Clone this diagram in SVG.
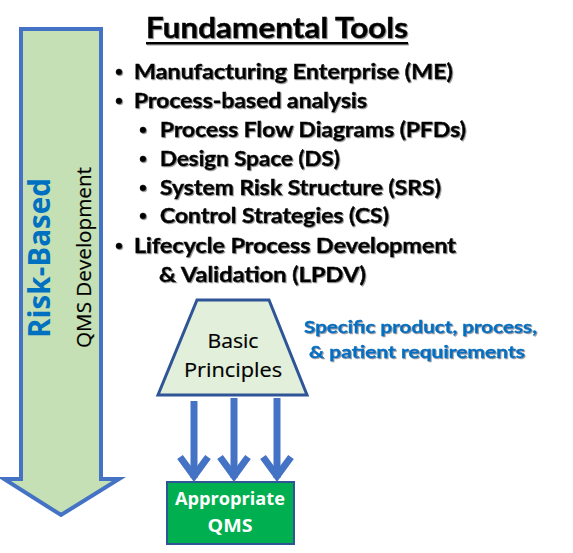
<svg xmlns="http://www.w3.org/2000/svg" width="573" height="553" viewBox="0 0 573 553">
<defs>
<filter id="sh" x="-5%" y="-20%" width="110%" height="140%">
<feDropShadow dx="1" dy="1" stdDeviation="0.6" flood-color="#777" flood-opacity="0.7"/>
</filter>
<style>
.t{font-family:Lato,"Open Sans","Liberation Sans",sans-serif;font-weight:bold;font-size:21px;fill:#000;stroke:#000;stroke-width:0.5}
.blue{font-family:Lato,"Open Sans","Liberation Sans",sans-serif;font-weight:bold;font-size:17px;fill:#0070C0;stroke:#0070C0;stroke-width:0.4}
.lbl{font-family:"Open Sans","Liberation Sans",sans-serif;font-size:20px;fill:#000;stroke:#000;stroke-width:0.2}
.wht{font-family:"Open Sans","Liberation Sans",sans-serif;font-weight:bold;font-size:17px;fill:#fff}
.conn{stroke:#4472C4;stroke-width:7;fill:none}
</style>
</defs>
<rect width="573" height="553" fill="#fff"/>
<g id="risk-arrow">
<polygon points="21,29 101,29 101,479 119,479 61,515 4,479 21,479" fill="#C5E0B4" stroke="#4472C4" stroke-width="4" stroke-linejoin="miter"/>
<text class="t" transform="translate(50,338) rotate(-90)" style="font-family:'Open Sans','Liberation Sans',sans-serif;font-size:30px;fill:#0070C0;stroke:none" textLength="160" lengthAdjust="spacingAndGlyphs">Risk-Based</text>
<text class="lbl" transform="translate(91,348) rotate(-90)" textLength="181" lengthAdjust="spacingAndGlyphs">QMS Development</text>
</g>
<g id="tools" filter="url(#sh)">
<text class="t" x="146" y="38" style="font-size:28px" textLength="262" lengthAdjust="spacingAndGlyphs">Fundamental Tools</text>
<rect x="146" y="42" width="262" height="2.5" fill="#000"/>
<g class="t">
<circle cx="119" cy="72" r="3"/>
<text x="134" y="79" textLength="319" lengthAdjust="spacingAndGlyphs">Manufacturing Enterprise (ME)</text>
<circle cx="119" cy="101" r="3"/>
<text x="134" y="108" textLength="233" lengthAdjust="spacingAndGlyphs">Process-based analysis</text>
<circle cx="143" cy="130" r="3"/>
<text x="160" y="137" textLength="306" lengthAdjust="spacingAndGlyphs">Process Flow Diagrams (PFDs)</text>
<circle cx="143" cy="159" r="3"/>
<text x="160" y="166" textLength="180" lengthAdjust="spacingAndGlyphs">Design Space (DS)</text>
<circle cx="143" cy="188" r="3"/>
<text x="160" y="195" textLength="281" lengthAdjust="spacingAndGlyphs">System Risk Structure (SRS)</text>
<circle cx="143" cy="216" r="3"/>
<text x="160" y="223" textLength="229" lengthAdjust="spacingAndGlyphs">Control Strategies (CS)</text>
<circle cx="119" cy="246" r="3"/>
<text x="134" y="253" textLength="322" lengthAdjust="spacingAndGlyphs">Lifecycle Process Development</text>
<text x="159" y="282" textLength="207" lengthAdjust="spacingAndGlyphs">&amp; Validation (LPDV)</text>
</g>
</g>
<g id="basic-principles">
<polygon points="197,300 269,300 307,395 158,395" fill="#E2EFDA" stroke="#2F5597" stroke-width="3"/>
<text class="lbl" x="233" y="348" text-anchor="middle" textLength="51" lengthAdjust="spacingAndGlyphs">Basic</text>
<text class="lbl" x="233" y="377" text-anchor="middle" textLength="98" lengthAdjust="spacingAndGlyphs">Principles</text>
</g>
<g id="requirements" filter="url(#sh)">
<text class="blue" x="304" y="333" textLength="233" lengthAdjust="spacingAndGlyphs">Specific product, process,</text>
<text class="blue" x="309" y="358" textLength="216" lengthAdjust="spacingAndGlyphs">&amp; patient requirements</text>
</g>
<g id="appropriate-qms">
<rect x="167" y="482" width="127" height="62" fill="#00B050" stroke="#2F5597" stroke-width="2"/>
<text class="wht" x="230" y="505" text-anchor="middle" textLength="110" lengthAdjust="spacingAndGlyphs">Appropriate</text>
<text class="wht" x="230" y="532" text-anchor="middle" textLength="45" lengthAdjust="spacingAndGlyphs">QMS</text>
</g>
<g id="connectors">
<line class="conn" x1="194" y1="401" x2="194" y2="478"/>
<polyline class="conn" points="180,457 194,476 208,457"/>
<line class="conn" x1="234" y1="398" x2="234" y2="478"/>
<polyline class="conn" points="220,457 234,476 248,457"/>
<line class="conn" x1="277" y1="398" x2="277" y2="478"/>
<polyline class="conn" points="263,457 277,476 291,457"/>
</g>
</svg>
